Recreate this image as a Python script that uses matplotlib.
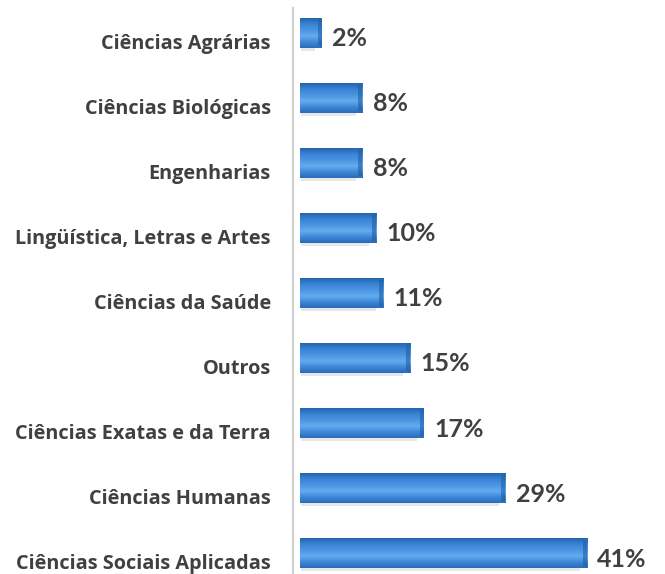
import numpy as np
import matplotlib.pyplot as plt
from matplotlib.colors import LinearSegmentedColormap
from matplotlib.transforms import ScaledTranslation

# dados (de cima para baixo)
categorias = ['Ciências Agrárias', 'Ciências Biológicas', 'Engenharias',
              'Lingüística, Letras e Artes', 'Ciências da Saúde', 'Outros',
              'Ciências Exatas e da Terra', 'Ciências Humanas',
              'Ciências Sociais Aplicadas']
valores = [2, 8, 8, 10, 11, 15, 17, 29, 41]

cor_texto = '#404040'
fonte = ['Lato', 'DejaVu Sans']
fonte_cat = ['Open Sans', 'DejaVu Sans']
profundidade = 1.2  # face lateral do efeito 3D (só estilo)

fig = plt.figure(figsize=(6.65, 5.74), dpi=100)
ax = fig.add_axes([293 / 665, 0, 369 / 665, 566 / 574])

y = np.arange(len(categorias))
altura = 0.45

# gradiente vertical para imitar o efeito 3D das barras
cmap = LinearSegmentedColormap.from_list(
    'bevel', ['#2563ad', '#3a84d6', '#4a95e2', '#64acef', '#3f88d8', '#2a6cb8'])
grad = np.linspace(0, 1, 64).reshape(-1, 1)

# sombra
ax.barh(y + 0.05, valores, height=altura, left=-profundidade + 0.2,
        color='#a0a0a0', alpha=0.25, zorder=1)
barras = ax.barh(y, valores, height=altura, left=0, color='#3f88d8', zorder=2)
for b in barras:
    x0, y0 = b.get_x(), b.get_y()
    w, h = b.get_width(), b.get_height()
    # face lateral à esquerda
    ax.fill_between([x0 - profundidade, x0], y0, y0 + h,
                    color='#3a80cf', linewidth=0, zorder=2)
    im = ax.imshow(grad, cmap=cmap, aspect='auto', zorder=3,
                   extent=(x0 - profundidade, x0 + w, y0 + h, y0),
                   interpolation='bicubic')
    # ponta direita mais escura
    ax.fill_between([x0 + w - 0.6, x0 + w], y0 + 0.03, y0 + h - 0.03,
                    color='#1f5a9e', alpha=0.55, zorder=4, linewidth=0)

for yi, v in zip(y, valores):
    ax.text(v + 1.5, yi + 0.09, f'{v}%', va='center', ha='left',
            fontsize=18, fontweight='bold', color=cor_texto, family=fonte)

ax.set_xlim(-2.2, 52)
ax.set_ylim(8.32, -0.385)
ax.tick_params(axis='y', length=0, pad=16)
ax.set_yticks(y)
ax.set_yticklabels(categorias, fontsize=14.3, fontweight='bold',
                   color=cor_texto, family=fonte_cat)
# rótulos um pouco abaixo do centro das barras, como no original
desloc = ScaledTranslation(0, -8 / 100, fig.dpi_scale_trans)
for lab in ax.get_yticklabels():
    lab.set_transform(lab.get_transform() + desloc)
ax.set_xticks([])
for lado in ['top', 'right', 'bottom']:
    ax.spines[lado].set_visible(False)
ax.spines['left'].set_color('#d0d0d0')
ax.spines['left'].set_linewidth(1.5)

fig.savefig('out.png', dpi=100)
